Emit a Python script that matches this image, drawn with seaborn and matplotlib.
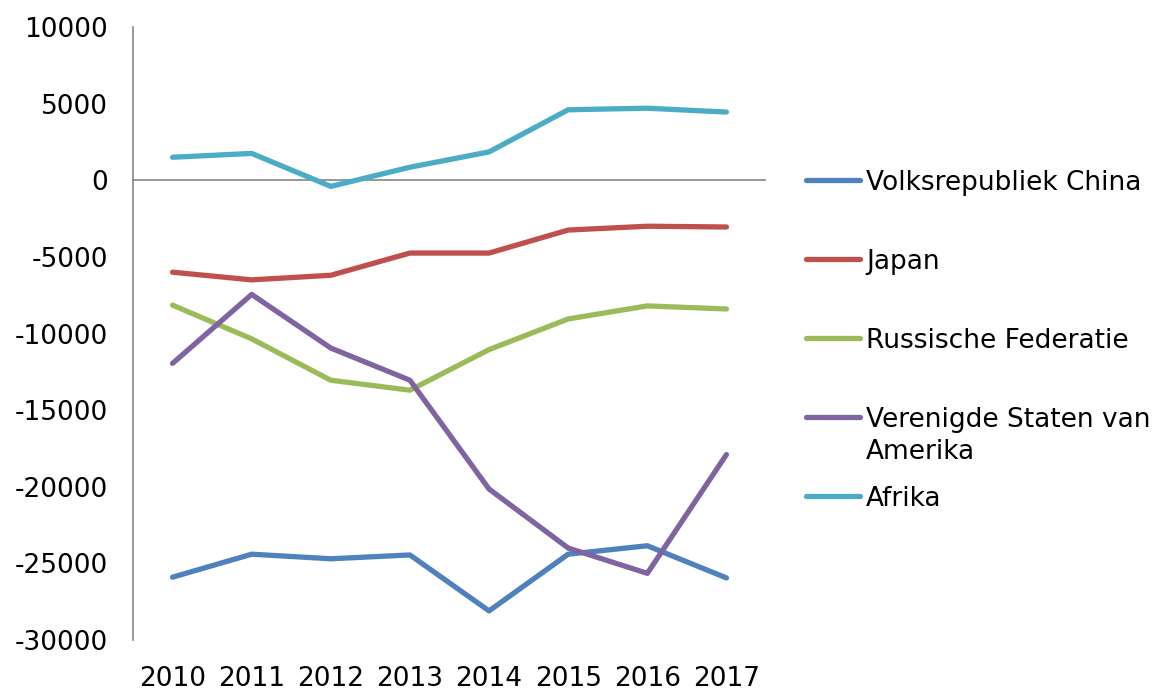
import pandas as pd
import matplotlib.pyplot as plt
import seaborn as sns
from matplotlib.lines import Line2D

# Data
years = ["2010", "2011", "2012", "2013", "2014", "2015", "2016", "2017"]
china = [-25900, -24400, -24700, -24450, -28100, -24400, -23850, -25950]
japan = [-6000, -6500, -6200, -4750, -4750, -3250, -3000, -3050]
russia = [-8150, -10350, -13050, -13700, -11050, -9050, -8200, -8400]
usa = [-11950, -7450, -10950, -13050, -20150, -24000, -25650, -17900]
afrika = [1500, 1750, -400, 850, 1850, 4600, 4700, 4450]

series_names = ["Volksrepubliek China", "Japan", "Russische Federatie",
                "Verenigde Staten van\nAmerika", "Afrika"]
colors = ["#4F81BD", "#C0504D", "#9BBB59", "#8064A2", "#4BACC6"]

rows = []
for name, vals in zip(series_names, [china, japan, russia, usa, afrika]):
    for i, v in enumerate(vals):
        rows.append({"idx": i, "jaar": years[i], "land": name, "waarde": v})
df = pd.DataFrame(rows)

sns.set_theme(style="white")
plt.rcParams["font.family"] = ["DejaVu Sans"]
plt.rcParams["axes.unicode_minus"] = False

FS = 19

fig = plt.figure(figsize=(11.59, 6.91), dpi=100)
ax = fig.add_axes([133 / 1159, 1 - 640 / 691, 633 / 1159, 613 / 691])

ax.axhline(0, color="#868686", lw=1.2, zorder=1)

sns.lineplot(data=df, x="idx", y="waarde", hue="land", hue_order=series_names,
             palette=colors, lw=3.8, legend=False, ax=ax, zorder=3,
             solid_capstyle="round", solid_joinstyle="round")

ax.set_xlim(-0.5, len(years) - 0.5)
ax.set_ylim(-30000, 10000)
ax.set_yticks(range(-30000, 10001, 5000))
ax.set_xticks(range(len(years)))
ax.set_xticklabels(years)
ax.set_xlabel("")
ax.set_ylabel("")
ax.tick_params(axis="y", length=0, pad=18, labelsize=FS, labelcolor="black")
ax.tick_params(axis="x", length=0, pad=19, labelsize=FS, labelcolor="black")

for s in ["top", "right", "bottom"]:
    ax.spines[s].set_visible(False)
ax.spines["left"].set_color("#868686")
ax.spines["left"].set_linewidth(1.2)

# legend drawn by hand so the handle sits on the first line of a wrapped label
y_px = 180
for name, col in zip(series_names, colors):
    yf = 1 - y_px / 691
    fig.add_artist(Line2D([806 / 1159, 860 / 1159], [yf, yf], color=col, lw=3.8,
                          solid_capstyle="round", transform=fig.transFigure))
    for k, line in enumerate(name.split("\n")):
        fig.text(866 / 1159, 1 - (y_px + 32 * k) / 691, line, fontsize=FS,
                 va="center_baseline", ha="left", color="black")
    y_px += 79

fig.savefig("out.png", dpi=100)
